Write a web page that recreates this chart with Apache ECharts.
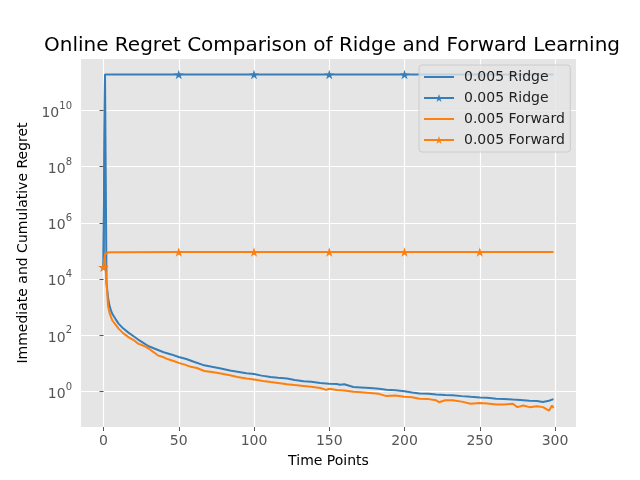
<!DOCTYPE html>
<html>
<head>
<meta charset="UTF-8">
<title>Online Regret Comparison</title>
<script src="https://cdn.jsdelivr.net/npm/echarts@6/dist/echarts.min.js"></script>
</head>
<body style="margin:0;background:#fff">
<div id="chart" style="width:640px;height:480px;"></div>
<script>
var ridgeX = [0, 1, 2, 3, 4, 5, 6, 8, 10, 13, 17, 20, 23, 27, 30, 35, 40, 45, 50, 55, 60, 66, 72, 78, 84, 90, 95, 100,
    105, 111, 116, 122, 127, 133, 138, 144, 150, 155, 157, 160, 166, 171, 177, 183, 188, 194, 200, 205, 210, 216,
    221, 227, 232, 238, 244, 250, 255, 261, 266, 272, 277, 283, 288, 292, 296, 299];
var ridgeImmediate = [2.7e4, 1.9e11, 7.1e3, 2.24e3, 1.12e3, 759, 562, 380, 263, 178, 120, 93, 71, 52, 41, 32, 25, 21, 17, 14.5, 11.5, 8.9, 7.6, 6.6, 5.6, 5.0, 4.5, 4.2,
    3.7, 3.3, 3.1, 2.9, 2.6, 2.34, 2.24, 2.04, 1.9, 1.86, 1.74, 1.82, 1.45, 1.41, 1.35, 1.26, 1.17, 1.12, 1.02, 0.93, 0.85, 0.83,
    0.79, 0.76, 0.74, 0.69, 0.65, 0.62, 0.60, 0.56, 0.55, 0.52, 0.50, 0.47, 0.46, 0.43, 0.47, 0.54];

var forwardX = [0, 1, 2, 3, 4, 5, 6, 8, 10, 13, 17, 20, 23, 27, 30, 31, 33, 36, 40, 43, 47, 50, 54, 58, 62, 67, 72, 78, 84, 89, 95, 100,
    106, 111, 116, 122, 127, 133, 138, 144, 148, 150, 155, 160, 166, 171, 177, 183, 188, 194, 200, 205, 210, 216,
    221, 223, 227, 232, 238, 244, 250, 255, 261, 266, 272, 275, 279, 283, 288, 292, 296, 298, 299];
var forwardImmediate = [2.7e4, 5.1e4, 7.9e3, 1.12e3, 631, 447, 331, 240, 174, 120, 83, 68, 51, 42, 34, 38, 26, 19.5, 16.6, 14.1, 12, 10.5, 9.1, 7.6, 6.9, 5.4, 5.0, 4.4, 3.8, 3.3, 2.95, 2.7,
    2.4, 2.19, 2.04, 1.82, 1.70, 1.58, 1.48, 1.35, 1.15, 1.26, 1.15, 1.10, 0.98, 0.95, 0.89, 0.83, 0.69, 0.72, 0.65, 0.63, 0.56, 0.54,
    0.49, 0.42, 0.49, 0.49, 0.44, 0.37, 0.39, 0.38, 0.35, 0.35, 0.37, 0.28, 0.32, 0.28, 0.30, 0.28, 0.21, 0.32, 0.26];

// cumulative regret
var cumX = [0, 1, 2, 3, 5, 10, 50, 100, 150, 200, 250, 299];
var ridgeCumulative = [2.7e4, 1.9e11, 1.9e11, 1.9e11, 1.9e11, 1.9e11, 1.9e11, 1.9e11, 1.9e11, 1.9e11, 1.9e11, 1.9e11];
var forwardCumulative = [2.7e4, 7.8e4, 8.6e4, 8.8e4, 9.0e4, 9.1e4, 9.2e4, 9.2e4, 9.2e4, 9.2e4, 9.2e4, 9.2e4];

var xTicks = [0, 50, 100, 150, 200, 250, 300];
var yTicks = [1, 1e2, 1e4, 1e6, 1e8, 1e10];

var blue = '#377eb8';
var orange = '#ff7f0e';
var star = 'path://M100,0 L122.45,69.1 L195.11,69.1 L136.33,111.8 L158.78,180.9 L100,138.2 L41.22,180.9 L63.67,111.8 L4.89,69.1 L77.55,69.1 Z';
var font = 'DejaVu Sans';

function pairs(xs, ys) {
    return xs.map(function (x, i) { return [x, ys[i]]; });
}
// star every 50 points, like markevery
function starred(xs, ys) {
    return xs.map(function (x, i) {
        return { value: [x, ys[i]], symbol: x % 50 === 0 ? star : 'none' };
    });
}

var chart = echarts.init(document.getElementById('chart'));

var option = {
    animation: false,
    textStyle: { fontFamily: font },
    title: {
        text: 'Online Regret Comparison of Ridge and Forward Learning',
        left: 327,
        textAlign: 'center',
        top: 31,
        textStyle: { fontFamily: font, fontSize: 20, fontWeight: 'normal', color: '#000' }
    },
    grid: {
        left: 81, right: 64, top: 59, bottom: 53,
        show: true, backgroundColor: '#e5e5e5', borderWidth: 0
    },
    legend: {
        orient: 'vertical',
        left: 419, top: 65,
        padding: [4, 1, 4, 4],
        itemWidth: 30, itemHeight: 10, itemGap: 5,
        backgroundColor: 'rgba(229,229,229,0.8)',
        borderColor: '#cccccc', borderWidth: 1, borderRadius: 3,
        textStyle: { fontFamily: font, fontSize: 14, color: '#222', padding: [0, 0, 0, 5], lineHeight: 16 },
        data: [
            { name: '0.005 Ridge', itemStyle: { opacity: 0 } },
            '0.005 Ridge ',
            { name: '0.005 Forward', itemStyle: { opacity: 0 } },
            '0.005 Forward '
        ]
    },
    xAxis: {
        type: 'value',
        min: -14.95, max: 313.95,
        name: 'Time Points', nameLocation: 'middle', nameGap: 27,
        nameTextStyle: { fontFamily: font, fontSize: 14, color: '#000' },
        axisLine: { show: false },
        axisTick: { show: true, length: 4, lineStyle: { color: '#555' }, customValues: xTicks },
        axisLabel: { customValues: xTicks, margin: 7, fontFamily: font, fontSize: 14, color: '#555' },
        splitLine: { show: true, lineStyle: { color: '#fff', width: 1.2 } }
    },
    yAxis: {
        type: 'log', logBase: 10,
        min: 0.055, max: 6.8e11,
        name: 'Immediate and Cumulative Regret', nameLocation: 'middle', nameGap: 50,
        nameTextStyle: { fontFamily: font, fontSize: 14, color: '#000' },
        axisLine: { show: false },
        axisTick: { show: true, length: 4, lineStyle: { color: '#555' }, customValues: yTicks },
        axisLabel: {
            customValues: yTicks, margin: 9,
            formatter: function (v) {
                return '{b|10}{s|' + Math.round(Math.log10(v)) + '}';
            },
            rich: {
                b: { fontFamily: font, fontSize: 14, color: '#555', verticalAlign: 'bottom', lineHeight: 19 },
                s: { fontFamily: font, fontSize: 10, color: '#555', verticalAlign: 'top', lineHeight: 19 }
            }
        },
        splitLine: { show: true, lineStyle: { color: '#fff', width: 1.2 } }
    },
    series: [
        {
            name: '0.005 Ridge', type: 'line', data: pairs(ridgeX, ridgeImmediate),
            showSymbol: false, symbol: 'none', color: blue, lineStyle: { width: 2 }
        },
        {
            name: '0.005 Ridge ', type: 'line', data: starred(cumX, ridgeCumulative),
            symbol: star, symbolSize: 10, symbolKeepAspect: true, showSymbol: true,
            color: blue, lineStyle: { width: 2 }
        },
        {
            name: '0.005 Forward', type: 'line', data: pairs(forwardX, forwardImmediate),
            showSymbol: false, symbol: 'none', color: orange, lineStyle: { width: 2 }
        },
        {
            name: '0.005 Forward ', type: 'line', data: starred(cumX, forwardCumulative),
            symbol: star, symbolSize: 10, symbolKeepAspect: true, showSymbol: true,
            color: orange, lineStyle: { width: 2 }
        }
    ]
};
chart.setOption(option);
</script>
</body>
</html>
